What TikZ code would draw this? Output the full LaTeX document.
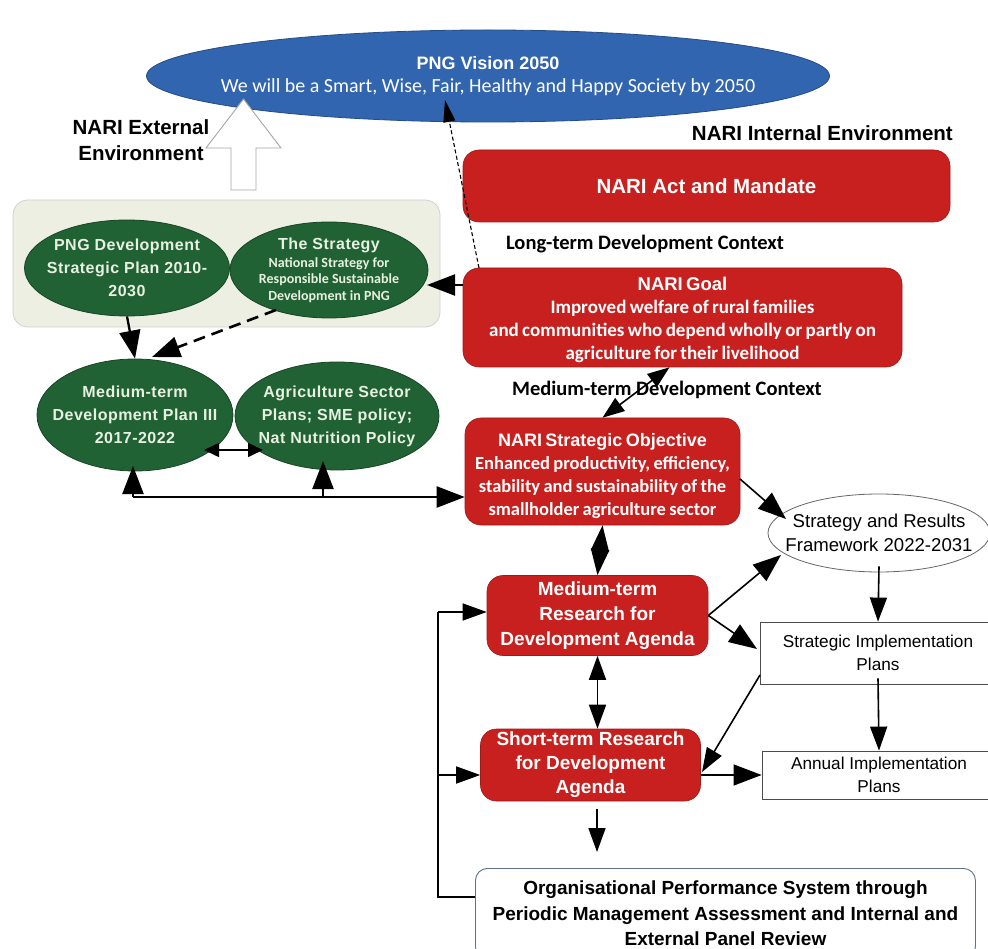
\documentclass[tikz,border=0pt]{standalone}
\usepackage{fontspec}
\setmainfont{Liberation Sans}
\newfontfamily\carl{Carlito}
\newfontfamily\widefont[LetterSpace=3]{Liberation Sans}
\usetikzlibrary{shapes.geometric,arrows.meta}
\definecolor{nred}{RGB}{200,32,30}
\definecolor{ngreen}{RGB}{33,98,52}
\definecolor{nblue}{RGB}{50,101,176}
\definecolor{ngray}{RGB}{236,239,226}
\definecolor{ntxt}{RGB}{232,240,226}
\definecolor{nslate}{RGB}{95,112,135}
\begin{document}
\begin{tikzpicture}[x=1pt,y=-1pt,
  redbox/.style={rectangle,rounded corners=16pt,fill=nred,draw=nred!80!black,line width=0.6pt,text=white,align=center,inner sep=0pt},
  greenell/.style={ellipse,fill=ngreen,draw=ngreen!70!black,line width=0.8pt,text=ntxt,align=center,inner ysep=0pt,inner xsep=-28pt,font=\widefont\bfseries\fontsize{16}{23}\selectfont},
  whitebox/.style={rectangle,draw=black!70,fill=white,line width=0.8pt,align=center,inner sep=0pt,font=\fontsize{17.2}{22.5}\selectfont},
  bigtip/.tip={Triangle[length=28pt,width=21pt]},
  midtip/.tip={Triangle[length=24pt,width=17pt]},
  smalltip/.tip={Triangle[length=15pt,width=14pt]},
  arr/.style={line width=2.3pt,-bigtip},
  thin arr/.style={line width=1.6pt,-midtip},
  thin darr/.style={line width=1.6pt,midtip-midtip},
  lbl/.style={font=\bfseries\fontsize{20.5}{26}\selectfont,align=center,inner sep=0pt},
  ctx/.style={font=\carl\bfseries\fontsize{20.5}{22}\selectfont,inner sep=0pt}
]
\useasboundingbox (0,0) rectangle (988,949);
\fill[white] (0,0) rectangle (988,949);

% background panel
\node[rectangle,rounded corners=15pt,fill=ngray,draw=black!18,line width=0.8pt,minimum width=427pt,minimum height=127pt,inner sep=0pt] (panel) at (226.5,263.5) {};

% vision
\node[ellipse,fill=nblue,draw=nblue!75!black,line width=0.8pt,minimum width=683pt,minimum height=92pt,inner ysep=0pt,inner xsep=-110pt,text=white,align=center,font=\carl\fontsize{20}{23.5}\selectfont] (vision) at (488,76)
 {{\rmfamily\bfseries\fontsize{18}{20}\selectfont PNG Vision 2050}\\We will be a Smart, Wise, Fair, Healthy and Happy Society by 2050};

% hollow arrow
\draw[black!35,line width=0.9pt,fill=white] (231,190) -- (231,148) -- (206,148) -- (243.5,99) -- (281,148) -- (256,148) -- (256,190) -- cycle;

\node[lbl] (ext) at (141,140) {NARI External\\Environment};
\node[lbl,anchor=east] (int) at (953,133) {NARI Internal Environment};

% red boxes
\node[redbox,minimum width=487pt,minimum height=72pt,font=\bfseries\fontsize{20.5}{22}\selectfont] (act) at (706.5,186) {NARI Act and Mandate};
\node[ctx] (ltc) at (645,244) {Long-term Development Context};
\node[redbox,minimum width=439pt,minimum height=99pt,text width=437pt] (goal) at (682.5,317.5)
 {\bfseries\fontsize{18.5}{20}\selectfont\rule{0pt}{19pt}NARI Goal\\\carl\bfseries\fontsize{19}{23}\selectfont Improved welfare of rural families\\and communities who depend wholly or partly on\\agriculture for their livelihood\par};
\node[ctx] (mtc) at (667,390) {Medium-term Development Context};
\node[redbox,minimum width=275pt,minimum height=107pt,text width=273pt] (so) at (602.5,471.5)
 {\bfseries\fontsize{18}{20}\selectfont\rule{0pt}{23pt}NARI Strategic Objective\\\carl\bfseries\fontsize{18.5}{23}\selectfont Enhanced productivity, efficiency,\\stability and sustainability of the\\smallholder agriculture sector\par};
\node[redbox,minimum width=221pt,minimum height=80pt,font=\bfseries\fontsize{19}{25}\selectfont] (mtr) at (597.5,615.5) {Medium-term\\Research for\\Development Agenda};
\node[redbox,minimum width=220pt,minimum height=72pt,font=\bfseries\fontsize{19}{24}\selectfont] (str) at (590.5,765) {Short-term Research\\for Development\\Agenda};

% green ellipses
\node[greenell,minimum width=205pt,minimum height=96pt] (e1) at (127,268) {PNG Development\\Strategic Plan 2010-\\2030};
\node[greenell,minimum width=198pt,minimum height=96pt,font=\carl\bfseries\fontsize{14}{16.5}\selectfont] (e2) at (329,270)
 {{\widefont\bfseries\fontsize{16}{18}\selectfont The Strategy}\\[1.5pt]National Strategy for\\Responsible Sustainable\\Development in PNG};
\node[greenell,minimum width=196pt,minimum height=112pt] (e3) at (135,415) {Medium-term\\Development Plan III\\2017-2022};
\node[greenell,minimum width=204pt,minimum height=108pt] (e4) at (337,416) {Agriculture Sector\\Plans;\ SME policy;\\Nat Nutrition Policy};

% right side white shapes
\node[ellipse,draw=black!60,fill=white,line width=0.8pt,minimum width=222pt,minimum height=78pt,inner ysep=0pt,inner xsep=-35pt,align=center,font=\fontsize{18.6}{24}\selectfont] (srf) at (879,533) {Strategy and Results\\Framework 2022-2031};
\node[whitebox,minimum width=236pt,minimum height=62pt] (sip) at (878,653) {Strategic Implementation\\Plans};
\node[whitebox,minimum width=234pt,minimum height=48pt] (aip) at (879,775) {Annual Implementation\\Plans};
\node[rectangle,rounded corners=12pt,draw=nslate,fill=white,line width=0.9pt,minimum width=500pt,minimum height=90pt,inner sep=0pt,align=center,anchor=north west,font=\bfseries\fontsize{19}{25.5}\selectfont] (ops) at (475,868) {Organisational Performance System through\\Periodic Management Assessment and Internal and\\External Panel Review};

% connectors
\coordinate (gdash) at (479,268);
\coordinate (vtip) at (445,100);
\draw[line width=1.1pt,dash pattern=on 4pt off 2.5pt,-{Triangle[length=22pt,width=12pt]}] (gdash) -- (vtip);
\coordinate (e2r) at (427,285);
\draw[arr] (goal.west |- e2r) -- (e2r);
\draw[arr] (e1.south) -- (e3.north);
\coordinate (e2d) at (276,310);
\coordinate (e3d) at (152,357);
\draw[line width=2.6pt,dash pattern=on 12pt off 7pt,-bigtip] (e2d) -- (e3d);
\draw[line width=1.6pt,{Triangle[length=22pt,width=16pt]}-{Triangle[length=22pt,width=16pt]}] ([xshift=-13pt]goal.south) -- (so.north);
\coordinate (l1) at (204,450);
\coordinate (l2) at (263,450);
\draw[line width=1.6pt,smalltip-smalltip] (l1) -- (l2);

\coordinate (b1) at (133,497);
\coordinate (b2) at (323,497);
\coordinate (t1) at (133,466);
\coordinate (t2) at (323,461);
\draw[line width=2.3pt] (b1) -- (b2);
\draw[arr] (b2) -- (so.west |- b2);
\draw[arr] (b1) -- (t1);
\draw[arr] (b2) -- (t2);

\coordinate (so1) at (740,479);
\coordinate (srf1) at (786,519);
\draw[thin arr,-bigtip] (so1) -- (srf1);
\draw[line width=2.4pt,{Triangle[length=26pt,width=18pt]}-{Triangle[length=26pt,width=18pt]}] (so.south) -- (mtr.north);
\coordinate (srf2) at (781,555);
\draw[thin arr,-bigtip] (mtr.east) -- (srf2);
\coordinate (sipw) at (757,649);
\draw[thin arr,-bigtip] (mtr.east) -- (sipw);
\draw[thin arr] ([yshift=6pt]srf.south) -- (sip.north);
\draw[thin arr] ([yshift=6pt]sip.south) -- (aip.north);
\coordinate (sipb) at (760,675);
\coordinate (str1) at (702,772);
\draw[thin arr] (sipb) -- (str1);
\draw[thin arr,-bigtip] (str.east |- aip.west) -- (aip.west);
\draw[thin darr] (mtr.south) -- (str.north -| mtr.south);
\coordinate (up) at (597,809);
\coordinate (dn) at (597,852);
\draw[thin arr] (up) -- (dn);

\coordinate (fb1) at (438,897);
\coordinate (fb2) at (438,612);
\coordinate (fb3) at (438,775);
\draw[line width=1.6pt] (ops.west |- fb1) -- (fb1) -- (fb2);
\draw[thin arr] (fb2) -- (mtr.west |- fb2);
\draw[thin arr] (fb3) -- (str.west |- fb3);
\end{tikzpicture}
\end{document}
